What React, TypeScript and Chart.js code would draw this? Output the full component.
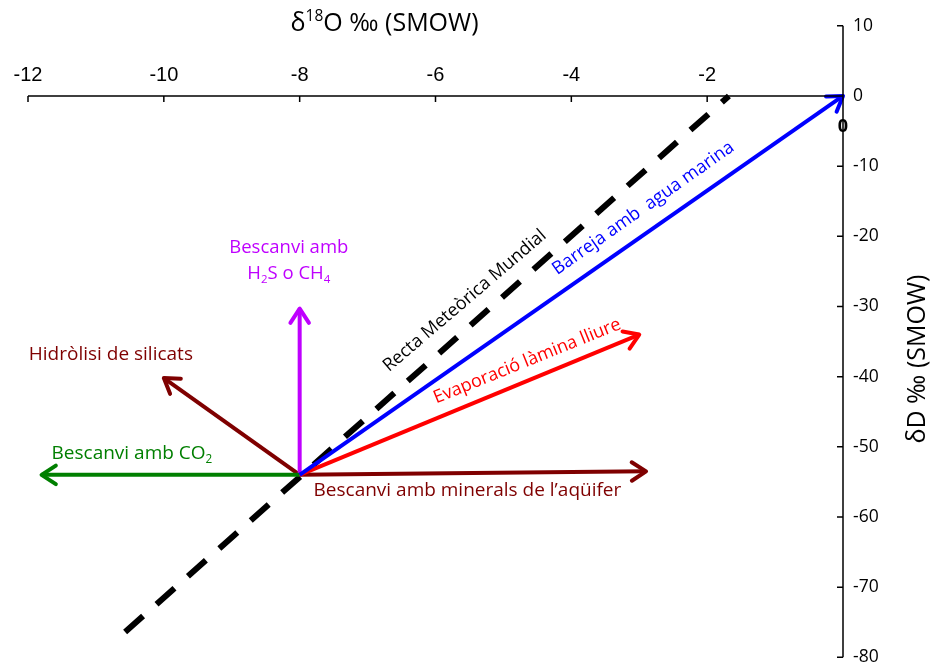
import React, { useEffect, useRef } from "react";
import { Chart, registerables } from "chart.js";

Chart.register(...registerables);

// ---- data ----
const xTicks = [-12, -10, -8, -6, -4, -2];
const yTicks = [10, 0, -10, -20, -30, -40, -50, -60, -70, -80];
const origin = { x: -8, y: -54 };
const meteoricLine = [
  { x: -10.57, y: -76.4 },
  { x: -1.68, y: 0 },
];
const seaMixEnd = { x: 0, y: 0 };
const evaporationEnd = { x: -3.0, y: -34.0 };
const mineralEnd = { x: -2.9, y: -53.5 };
const co2End = { x: -11.8, y: -54 };
const h2sEnd = { x: -8, y: -30.3 };
const silicateEnd = { x: -10, y: -40.2 };

type Seg = { t: string; s?: "sub" | "sup" };
const xTitle: Seg[] = [{ t: "δ" }, { t: "18", s: "sup" }, { t: "O ‰ (SMOW)" }];
const yTitle: Seg[] = [{ t: "δD ‰ (SMOW)" }];
const meteoricLabel: Seg[] = [{ t: "Recta Meteòrica Mundial" }];
const seaMixLabel: Seg[] = [{ t: "Barreja amb  agua marina" }];
const evaporationLabel: Seg[] = [{ t: "Evaporació làmina lliure" }];
const mineralLabel: Seg[] = [{ t: "Bescanvi amb minerals de l’aqüifer" }];
const co2Label: Seg[] = [{ t: "Bescanvi amb CO" }, { t: "2", s: "sub" }];
const h2sLabel1: Seg[] = [{ t: "Bescanvi amb" }];
const h2sLabel2: Seg[] = [{ t: "H" }, { t: "2", s: "sub" }, { t: "S o CH" }, { t: "4", s: "sub" }];
const silicateLabel: Seg[] = [{ t: "Hidròlisi de silicats" }];
const originLabel: Seg[] = [{ t: "0" }];

const FONT = '"Open Sans", Lato, sans-serif';
const TICK_FONT = '"Liberation Sans", Arial, sans-serif';

function segFont(size: number, seg: Seg, bold: boolean) {
  const fs = seg.s ? size * 0.62 : size;
  return `${bold ? "bold " : ""}${fs}px ${FONT}`;
}

function drawRich(
  ctx: CanvasRenderingContext2D,
  segs: Seg[],
  cx: number,
  cy: number,
  size: number,
  color: string,
  align: "center" | "left" = "center",
  angle = 0,
  bold = false
) {
  ctx.save();
  ctx.translate(cx, cy);
  ctx.rotate((angle * Math.PI) / 180);
  let w = 0;
  for (const s of segs) {
    ctx.font = segFont(size, s, bold);
    w += ctx.measureText(s.t).width;
  }
  let x = align === "center" ? -w / 2 : 0;
  ctx.textBaseline = "middle";
  ctx.textAlign = "left";
  ctx.fillStyle = color;
  for (const s of segs) {
    ctx.font = segFont(size, s, bold);
    const dy = s.s === "sub" ? size * 0.32 : s.s === "sup" ? -size * 0.3 : 0;
    ctx.fillText(s.t, x, dy);
    x += ctx.measureText(s.t).width;
  }
  ctx.restore();
}

const overlayPlugin = {
  id: "overlay",
  afterDatasetsDraw(chart: any) {
    const ctx: CanvasRenderingContext2D = chart.ctx;
    const xs = chart.scales.x;
    const ys = chart.scales.y;
    const px = (v: number) => xs.getPixelForValue(v);
    const py = (v: number) => ys.getPixelForValue(v);

    // arrowheads
    chart.data.datasets.forEach((ds: any, i: number) => {
      if (!ds.arrow) return;
      const meta = chart.getDatasetMeta(i);
      const a = meta.data[0];
      const b = meta.data[1];
      const ang = Math.atan2(b.y - a.y, b.x - a.x);
      const L = 17;
      const spread = (33 * Math.PI) / 180;
      ctx.save();
      ctx.strokeStyle = ds.borderColor;
      ctx.lineWidth = ds.borderWidth;
      ctx.lineCap = "round";
      ctx.lineJoin = "round";
      ctx.beginPath();
      ctx.moveTo(b.x - L * Math.cos(ang - spread), b.y - L * Math.sin(ang - spread));
      ctx.lineTo(b.x, b.y);
      ctx.lineTo(b.x - L * Math.cos(ang + spread), b.y - L * Math.sin(ang + spread));
      ctx.stroke();
      ctx.restore();
    });

    // axes
    const x0 = px(0);
    const y0 = py(0);
    ctx.save();
    ctx.strokeStyle = "#000";
    ctx.lineWidth = 1.5;
    ctx.beginPath();
    ctx.moveTo(px(xTicks[0]), y0);
    ctx.lineTo(x0, y0);
    ctx.moveTo(x0, py(yTicks[0]));
    ctx.lineTo(x0, py(yTicks[yTicks.length - 1]));
    for (const t of xTicks) {
      ctx.moveTo(px(t), y0);
      ctx.lineTo(px(t), y0 + 6);
    }
    for (const t of yTicks) {
      ctx.moveTo(x0, py(t));
      ctx.lineTo(x0 - 6, py(t));
    }
    ctx.stroke();
    ctx.fillStyle = "#000";
    ctx.font = `20px ${TICK_FONT}`;
    ctx.textBaseline = "middle";
    ctx.textAlign = "center";
    for (const t of xTicks) ctx.fillText(String(t), px(t), y0 - 20);
    ctx.font = `17.5px ${FONT}`;
    ctx.textAlign = "left";
    for (const t of yTicks) ctx.fillText(String(t), x0 + 10, py(t));
    ctx.restore();

    // titles
    drawRich(ctx, xTitle, px(-6.75), 24, 25, "#000");
    drawRich(ctx, yTitle, 918, py(-37.5), 25, "#000", "center", -90);

    // annotations
    drawRich(ctx, originLabel, x0, py(-4.4), 18, "#000", "center", 0, true);
    drawRich(ctx, meteoricLabel, px(-5.57), py(-29.2), 18, "#000", "center", -40.5);
    drawRich(ctx, seaMixLabel, px(-2.94), py(-16.0), 18, "#0000FF", "center", -35.2);
    drawRich(ctx, evaporationLabel, px(-4.65), py(-37.8), 18, "#FF0000", "center", -22);
    drawRich(ctx, mineralLabel, px(-5.53), py(-56.25), 19, "#7F0000");
    drawRich(ctx, co2Label, px(-10.47), py(-50.9), 19, "#007F00");
    drawRich(ctx, h2sLabel1, px(-8.16), py(-21.7), 18.5, "#BF00FF");
    drawRich(ctx, h2sLabel2, px(-8.16), py(-25.3), 18.5, "#BF00FF");
    drawRich(ctx, silicateLabel, px(-10.78), py(-36.8), 19, "#7F0000");
  },
};

function arrow(end: { x: number; y: number }, color: string) {
  return {
    data: [origin, end],
    borderColor: color,
    borderWidth: 4,
    showLine: true,
    pointRadius: 0,
    arrow: true,
  } as any;
}

export default function App() {
  const ref = useRef<HTMLCanvasElement>(null);
  useEffect(() => {
    if (!ref.current) return;
    const chart = new Chart(ref.current, {
      type: "scatter",
      data: {
        datasets: [
          arrow(seaMixEnd, "#0000FF"),
          arrow(evaporationEnd, "#FF0000"),
          arrow(mineralEnd, "#7F0000"),
          arrow(co2End, "#007F00"),
          arrow(h2sEnd, "#BF00FF"),
          arrow(silicateEnd, "#7F0000"),
          {
            data: meteoricLine,
            borderColor: "#000",
            borderWidth: 6,
            borderDash: [24, 18],
            showLine: true,
            pointRadius: 0,
          } as any,
        ],
      },
      options: {
        animation: false,
        responsive: false,
        clip: false as any,
        layout: { padding: { left: 28, right: 91, top: 25.8, bottom: 6.7 } },
        scales: {
          x: { type: "linear", min: -12, max: 0, display: false },
          y: { type: "linear", min: -80, max: 10, display: false },
        },
        plugins: { legend: { display: false }, tooltip: { enabled: false } },
      },
      plugins: [overlayPlugin],
    });
    return () => chart.destroy();
  }, []);
  return (
    <div style={{ position: "fixed", left: 0, top: 0, width: 934, height: 664, background: "#fff" }}>
      <canvas ref={ref} width={934} height={664} style={{ display: "block" }} />
    </div>
  );
}
